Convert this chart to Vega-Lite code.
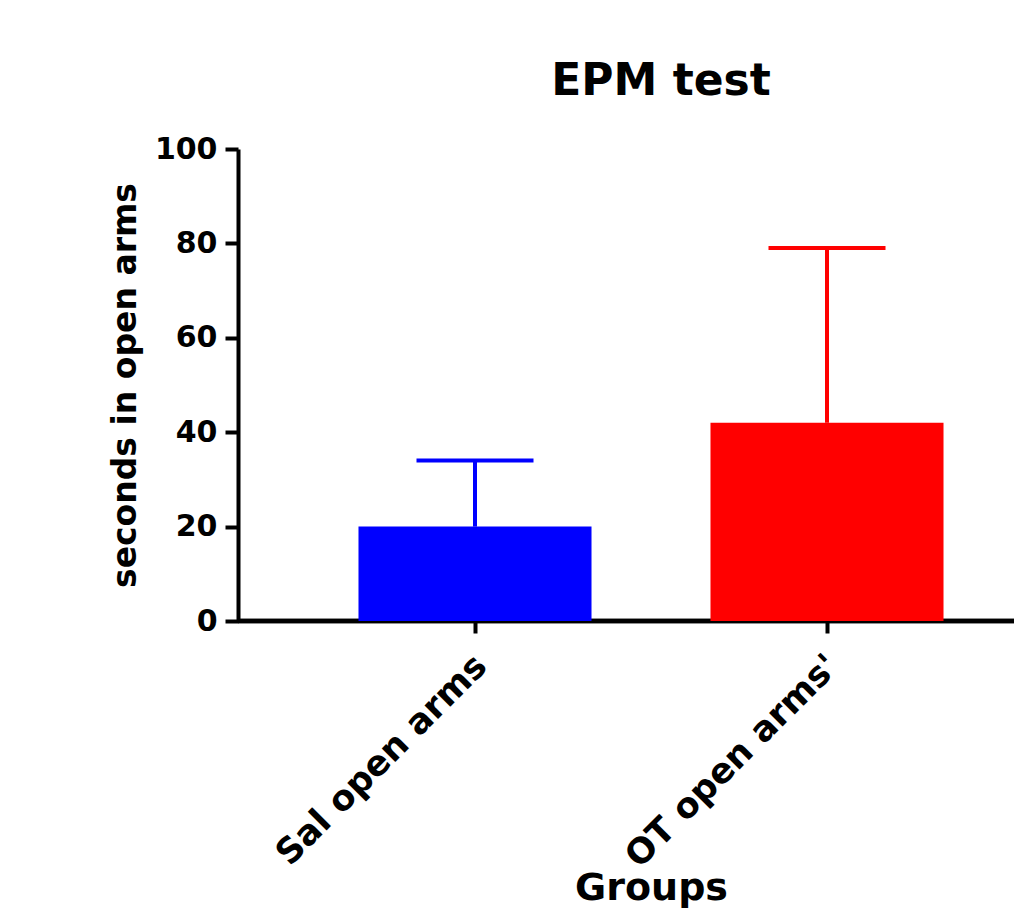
{
  "$schema": "https://vega.github.io/schema/vega-lite/v6.json",
  "width": 776,
  "height": 472,
  "autosize": {"type": "none"},
  "padding": {"left": 238, "top": 149, "right": 0, "bottom": 291},
  "background": "white",
  "config": {
    "view": {"stroke": null},
    "font": "DejaVu Sans",
    "axis": {"labelFont": "DejaVu Sans", "titleFont": "DejaVu Sans", "labelColor": "black", "titleColor": "black", "grid": false}
  },
  "title": {
    "text": "EPM test",
    "font": "DejaVu Sans",
    "fontSize": 44,
    "fontWeight": "bold",
    "color": "black",
    "anchor": "middle",
    "dx": 35,
    "offset": 30
  },
  "data": {
    "values": [
      {"group": "Sal open arms", "mean": 20, "upper": 34},
      {"group": "OT open arms'", "mean": 42, "upper": 79}
    ]
  },
  "encoding": {
    "x": {
      "field": "group",
      "type": "nominal",
      "sort": null,
      "scale": {"range": [61, 765], "paddingInner": 0.338, "paddingOuter": 0.169},
      "axis": {
        "title": "Groups",
        "titleFontSize": 38,
        "titleFontWeight": "bold",
        "titleX": 413,
        "titleY": 278,
        "titleAlign": "center",
        "titleBaseline": "alphabetic",
        "labelAngle": -45,
        "labelFontSize": 35,
        "labelFontWeight": "bold",
        "labelPadding": 15,
        "labelOffset": -6,
        "labelLimit": 0,
        "domain": false,
        "tickSize": 12,
        "tickWidth": 4,
        "tickColor": "black"
      }
    }
  },
  "layer": [
    {
      "mark": {"type": "rule", "stroke": "black", "strokeWidth": 4.5},
      "encoding": {"x": null, "y": {"datum": 0, "type": "quantitative"}}
    },
    {
      "mark": {"type": "bar", "opacity": 1},
      "encoding": {
        "y": {
          "field": "mean",
          "type": "quantitative",
          "scale": {"domain": [0, 100], "nice": false},
          "axis": {
            "title": "seconds in open arms",
            "titleFontSize": 33,
            "titleFontWeight": "bold",
            "titlePadding": 12,
            "values": [0, 20, 40, 60, 80, 100],
            "labelFontSize": 30,
            "labelFontWeight": "bold",
            "labelPadding": 8,
            "domainColor": "black",
            "domainWidth": 4,
            "tickColor": "black",
            "tickWidth": 4,
            "tickSize": 13
          }
        },
        "color": {
          "field": "group",
          "type": "nominal",
          "scale": {"domain": ["Sal open arms", "OT open arms'"], "range": ["#0000ff", "#ff0000"]},
          "legend": null
        }
      }
    },
    {
      "mark": {"type": "rule", "strokeWidth": 4, "opacity": 1},
      "encoding": {
        "y": {"field": "mean", "type": "quantitative"},
        "y2": {"field": "upper"},
        "color": {"field": "group", "type": "nominal", "legend": null}
      }
    },
    {
      "mark": {"type": "tick", "size": 117, "thickness": 4, "opacity": 1},
      "encoding": {
        "y": {"field": "upper", "type": "quantitative"},
        "color": {"field": "group", "type": "nominal", "legend": null}
      }
    }
  ]
}
